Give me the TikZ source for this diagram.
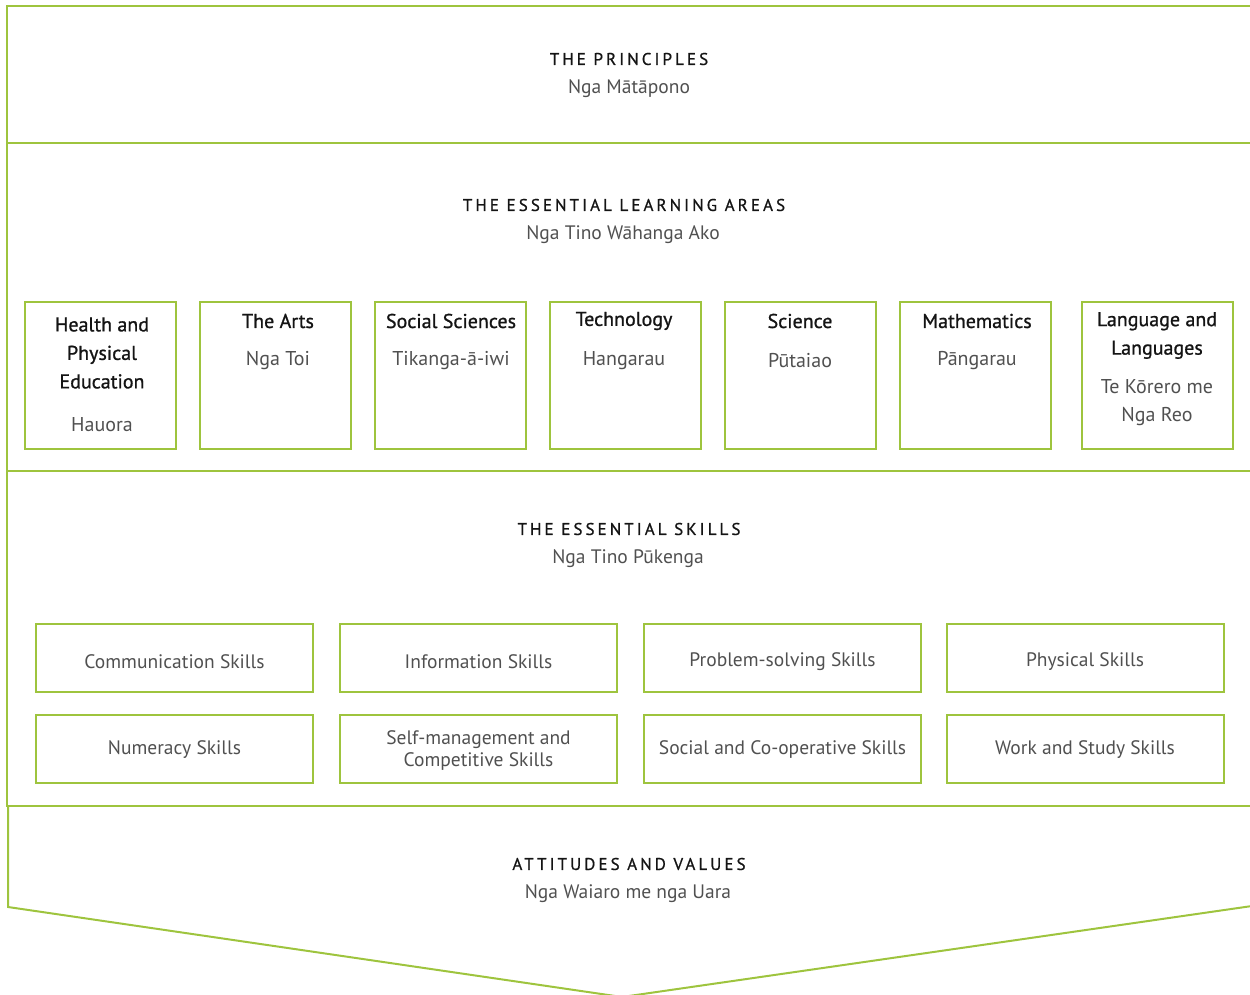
\documentclass[tikz,border=0pt]{standalone}
\usepackage{fontspec}
\setmainfont{PT Sans}
\definecolor{lg}{RGB}{158,196,62}
\definecolor{tdark}{RGB}{20,20,20}
\definecolor{tgray}{RGB}{80,80,80}
\begin{document}
\begin{tikzpicture}[x=1pt,y=-1pt,
  frame/.style={draw=lg,line width=2pt},
  area/.style={draw=lg,line width=2pt,minimum width=151pt,minimum height=147pt,inner sep=0pt},
  skill/.style={draw=lg,line width=2pt,minimum width=277pt,minimum height=68pt,inner sep=0pt},
  stext/.style={text=tgray,align=center,font=\fontsize{19.5}{22}\selectfont},
  head/.style={text=tdark,font=\fontsize{17}{20}\selectfont\addfontfeature{LetterSpace=18,FakeBold=0.8}},
  sub/.style={text=tgray,font=\fontsize{19.5}{22}\selectfont},
  atitle/.style={text=tdark,align=center,font=\fontsize{20}{28.5}\selectfont\addfontfeature{FakeBold=1}},
  asub/.style={text=tgray,align=center,font=\fontsize{20}{28}\selectfont}]
\useasboundingbox (0,0) rectangle (1250,995);
% frame
\coordinate (tl) at (7,6);
\coordinate (tr) at (1252,6);
\coordinate (l1) at (7,143);
\coordinate (r1) at (1252,143);
\coordinate (l2) at (7,471);
\coordinate (r2) at (1252,471);
\coordinate (l3) at (7,806);
\coordinate (r3) at (1252,806);
\coordinate (l4) at (8,806);
\coordinate (b1) at (8,907);
\coordinate (tip) at (622,997);
\coordinate (b2) at (1252,906);
\draw[frame] (tr) -- (tl) -- (l3) -- (r3);
\draw[frame] (l1) -- (r1);
\draw[frame] (l2) -- (r2);
\draw[frame] (l4) -- (b1) -- (tip) -- (b2);
% section headings
\node[head] (h1) at (629,59) {THE PRINCIPLES};
\node[sub] (s1) at (629,89) {Nga Mātāpono};
\node[head] (h2) at (624,205) {THE ESSENTIAL LEARNING AREAS};
\node[sub] (s2) at (623,235) {Nga Tino Wāhanga Ako};
\node[head] (h3) at (629,529) {THE ESSENTIAL SKILLS};
\node[sub] (s3) at (628,559) {Nga Tino Pūkenga};
\node[head] (h4) at (629,864) {ATTITUDES AND VALUES};
\node[sub] (s4) at (628,894) {Nga Waiaro me nga Uara};
% learning areas
\node[area] (a1) at (100,375.5) {};
\node[area] (a2) at (275.5,375.5) {};
\node[area] (a3) at (450.5,375.5) {};
\node[area] (a4) at (625,375.5) {};
\node[area] (a5) at (800.5,375.5) {};
\node[area] (a6) at (975.5,375.5) {};
\node[area] (a7) at (1157,375.5) {};
\node[atitle] (t1) at (102,353) {Health and\\Physical\\Education};
\node[asub] (u1) at (102,425) {Hauora};
\node[atitle] (t2) at (278,321) {The Arts};
\node[asub] (u2) at (278,361) {Nga Toi};
\node[atitle] (t3) at (451,321) {Social Sciences};
\node[asub] (u3) at (451,361) {Tikanga-ā-iwi};
\node[atitle] (t4) at (624,321) {Technology};
\node[asub] (u4) at (624,361) {Hangarau};
\node[atitle] (t5) at (800,321) {Science};
\node[asub] (u5) at (800,361) {Pūtaiao};
\node[atitle] (t6) at (977,321) {Mathematics};
\node[asub] (u6) at (977,361) {Pāngarau};
\node[atitle] (t7) at (1157,335.5) {Language and\\Languages};
\node[asub] (u7) at (1157,403) {Te Kōrero me\\Nga Reo};
% skills
\node[skill] (k1) at (174.5,658) {};
\node[skill] (k2) at (478.5,658) {};
\node[skill] (k3) at (782.5,658) {};
\node[skill] (k4) at (1085,658) {};
\node[skill] (k5) at (174.5,749) {};
\node[skill] (k6) at (478.5,749) {};
\node[skill] (k7) at (782.5,749) {};
\node[skill] (k8) at (1085,749) {};
\node[stext] (q1) at ([yshift=-4pt]k1.center) {Communication Skills};
\node[stext] (q2) at ([yshift=-4pt]k2.center) {Information Skills};
\node[stext] (q3) at ([yshift=-4pt]k3.center) {Problem-solving Skills};
\node[stext] (q4) at ([yshift=-4pt]k4.center) {Physical Skills};
\node[stext] (q5) at ([yshift=-1pt]k5.center) {Numeracy Skills};
\node[stext] (q6) at ([yshift=-2pt]k6.center) {Self-management and\\Competitive Skills};
\node[stext] (q7) at ([yshift=-1pt]k7.center) {Social and Co-operative Skills};
\node[stext] (q8) at ([yshift=-1pt]k8.center) {Work and Study Skills};
\end{tikzpicture}
\end{document}
